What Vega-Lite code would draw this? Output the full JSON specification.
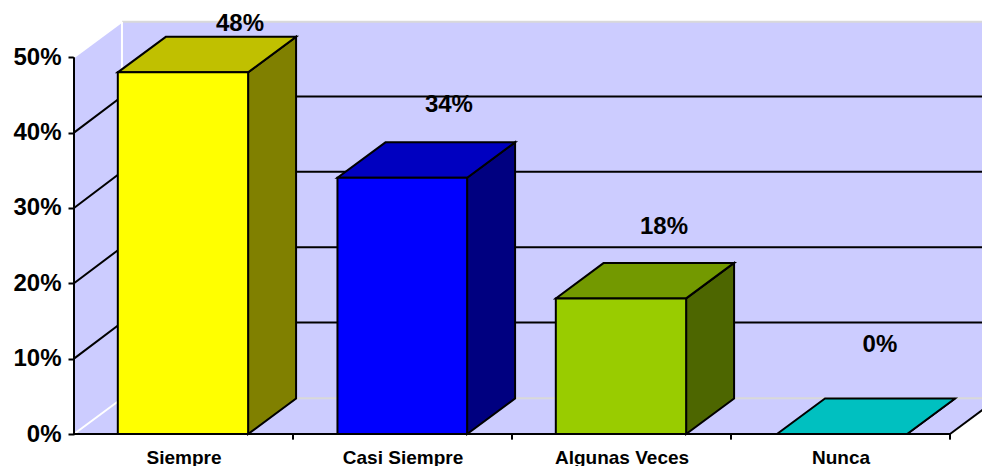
{
  "$schema": "https://vega.github.io/schema/vega-lite/v6.json",
  "width": 908,
  "height": 434,
  "autosize": {"type": "none"},
  "padding": {"left": 74, "top": 0, "right": 0, "bottom": 32},
  "background": "white",
  "view": {"stroke": null},
  "config": {"font": "Liberation Sans"},
  "datasets": {
    "barras": [
      {"categoria": "Siempre", "etiqueta": "48%", "y": 48, "x": 0.2, "x2": 0.795, "xEtiqueta": 0.758, "yEtiqueta": 54.4},
      {"categoria": "Casi Siempre", "etiqueta": "34%", "y": 34, "x": 1.203, "x2": 1.795, "xEtiqueta": 1.712, "yEtiqueta": 43.66},
      {"categoria": "Algunas Veces", "etiqueta": "18%", "y": 18, "x": 2.2, "x2": 2.795, "xEtiqueta": 2.694, "yEtiqueta": 27.47},
      {"categoria": "Nunca", "etiqueta": "0%", "y": 0, "x": 3.21, "x2": 3.804, "xEtiqueta": 3.68, "yEtiqueta": 11.8}
    ],
    "lateral": [
      {"categoria": "Siempre", "x": 0.795, "y": 48, "y2": 0},
      {"categoria": "Siempre", "x": 1.014, "y": 52.71, "y2": 4.71},
      {"categoria": "Casi Siempre", "x": 1.795, "y": 34, "y2": 0},
      {"categoria": "Casi Siempre", "x": 2.014, "y": 38.71, "y2": 4.71},
      {"categoria": "Algunas Veces", "x": 2.795, "y": 18, "y2": 0},
      {"categoria": "Algunas Veces", "x": 3.014, "y": 22.71, "y2": 4.71},
      {"categoria": "Nunca", "x": 3.804, "y": 0, "y2": 0},
      {"categoria": "Nunca", "x": 4.023, "y": 4.71, "y2": 4.71}
    ],
    "superior": [
      {"categoria": "Siempre", "y": 48, "x": 0.2, "x2": 0.795},
      {"categoria": "Siempre", "y": 52.71, "x": 0.419, "x2": 1.014},
      {"categoria": "Casi Siempre", "y": 34, "x": 1.203, "x2": 1.795},
      {"categoria": "Casi Siempre", "y": 38.71, "x": 1.422, "x2": 2.014},
      {"categoria": "Algunas Veces", "y": 18, "x": 2.2, "x2": 2.795},
      {"categoria": "Algunas Veces", "y": 22.71, "x": 2.419, "x2": 3.014},
      {"categoria": "Nunca", "y": 0, "x": 3.21, "x2": 3.804},
      {"categoria": "Nunca", "y": 4.71, "x": 3.429, "x2": 4.023}
    ],
    "paredes": [
      {"pared": "fondo", "x": 0.219, "y": 54.71, "y2": 4.71},
      {"pared": "fondo", "x": 4.219, "y": 54.71, "y2": 4.71},
      {"pared": "izquierda", "x": 0, "y": 50, "y2": 0},
      {"pared": "izquierda", "x": 0.219, "y": 54.71, "y2": 4.71}
    ],
    "suelo": [
      {"y": 0, "x": 0, "x2": 4},
      {"y": 4.71, "x": 0.219, "x2": 4.219}
    ],
    "rejilla": [
      {"nivel": 10, "x": 0, "y": 10},
      {"nivel": 10, "x": 0.219, "y": 14.8},
      {"nivel": 10, "x": 4.219, "y": 14.8},
      {"nivel": 20, "x": 0, "y": 20},
      {"nivel": 20, "x": 0.219, "y": 24.8},
      {"nivel": 20, "x": 4.219, "y": 24.8},
      {"nivel": 30, "x": 0, "y": 30},
      {"nivel": 30, "x": 0.219, "y": 34.8},
      {"nivel": 30, "x": 4.219, "y": 34.8},
      {"nivel": 40, "x": 0, "y": 40},
      {"nivel": 40, "x": 0.219, "y": 44.8},
      {"nivel": 40, "x": 4.219, "y": 44.8}
    ],
    "bordesClaros": [
      {"borde": "techo", "x": 0.219, "y": 54.71},
      {"borde": "techo", "x": 4.219, "y": 54.71},
      {"borde": "base", "x": 0.219, "y": 4.75},
      {"borde": "base", "x": 4.219, "y": 4.75}
    ],
    "bordesBlancos": [
      {"borde": "arista", "x": 0.219, "y": 4.71},
      {"borde": "arista", "x": 0.219, "y": 54.71},
      {"borde": "techo", "x": 0, "y": 50},
      {"borde": "techo", "x": 0.219, "y": 54.71},
      {"borde": "base", "x": 0, "y": 0},
      {"borde": "base", "x": 0.219, "y": 4.71}
    ],
    "ejes": [
      {"eje": "vertical", "x": 0, "y": 0},
      {"eje": "vertical", "x": 0, "y": 50},
      {"eje": "horizontal", "x": 0, "y": 0},
      {"eje": "horizontal", "x": 4, "y": 0},
      {"eje": "esquina", "x": 4, "y": 0},
      {"eje": "esquina", "x": 4.219, "y": 4.71},
      {"eje": "marca1", "x": 1, "y": 0},
      {"eje": "marca1", "x": 1, "y": -0.75},
      {"eje": "marca2", "x": 2, "y": 0},
      {"eje": "marca2", "x": 2, "y": -0.75},
      {"eje": "marca3", "x": 3, "y": 0},
      {"eje": "marca3", "x": 3, "y": -0.75},
      {"eje": "marca4", "x": 4, "y": 0},
      {"eje": "marca4", "x": 4, "y": -0.75}
    ]
  },
  "encoding": {
    "x": {
      "field": "x",
      "type": "quantitative",
      "stack": null,
      "scale": {"domain": [0, 4.146], "nice": false, "zero": false},
      "axis": {
        "orient": "bottom",
        "values": [0.5, 1.5, 2.5, 3.5],
        "domain": false,
        "ticks": false,
        "grid": false,
        "title": null,
        "labelExpr": "['Siempre', 'Casi Siempre', 'Algunas Veces', 'Nunca'][floor(datum.value)]",
        "labelFont": "Liberation Sans",
        "labelFontWeight": "bold",
        "labelFontSize": 19,
        "labelColor": "#000000",
        "labelPadding": 14,
        "labelBaseline": "top"
      }
    },
    "y": {
      "field": "y",
      "type": "quantitative",
      "stack": null,
      "scale": {"domain": [0, 57.6], "nice": false, "zero": false},
      "axis": {
        "orient": "left",
        "values": [0, 10, 20, 30, 40, 50],
        "domain": false,
        "ticks": true,
        "tickColor": "#000000",
        "tickWidth": 2,
        "tickSize": 6,
        "grid": false,
        "title": null,
        "labelExpr": "datum.value + '%'",
        "labelFont": "Liberation Sans",
        "labelFontWeight": "bold",
        "labelFontSize": 24,
        "labelColor": "#000000",
        "labelPadding": 7
      }
    }
  },
  "layer": [
    {
      "data": {"name": "paredes"},
      "mark": {"type": "area", "color": "#ccccff", "orient": "vertical"},
      "encoding": {
        "detail": {"field": "pared"},
        "y2": {"field": "y2"}
      }
    },
    {
      "data": {"name": "suelo"},
      "mark": {"type": "area", "color": "#ccccff", "orient": "horizontal"},
      "encoding": {"x2": {"field": "x2"}}
    },
    {
      "data": {"name": "bordesClaros"},
      "mark": {"type": "line", "color": "#d9d9d9", "strokeWidth": 2},
      "encoding": {"detail": {"field": "borde"}}
    },
    {
      "data": {"name": "bordesBlancos"},
      "mark": {"type": "line", "color": "#ffffff", "strokeWidth": 2},
      "encoding": {"detail": {"field": "borde"}}
    },
    {
      "data": {"name": "rejilla"},
      "mark": {"type": "line", "color": "#000000", "strokeWidth": 2},
      "encoding": {"detail": {"field": "nivel"}}
    },
    {
      "data": {"name": "ejes"},
      "mark": {"type": "line", "color": "#000000", "strokeWidth": 2},
      "encoding": {"detail": {"field": "eje"}}
    },
    {
      "data": {"name": "lateral"},
      "mark": {"type": "area", "orient": "vertical", "stroke": "#000000", "strokeWidth": 2},
      "encoding": {
        "y2": {"field": "y2"},
        "color": {
          "field": "categoria",
          "type": "nominal",
          "legend": null,
          "scale": {
            "domain": ["Siempre", "Casi Siempre", "Algunas Veces", "Nunca"],
            "range": ["#808000", "#000080", "#4d6600", "#008080"]
          }
        }
      }
    },
    {
      "data": {"name": "superior"},
      "mark": {"type": "area", "orient": "horizontal", "stroke": "#000000", "strokeWidth": 2},
      "encoding": {
        "x2": {"field": "x2"},
        "color": {
          "field": "categoria",
          "type": "nominal",
          "legend": null,
          "scale": {
            "domain": ["Siempre", "Casi Siempre", "Algunas Veces", "Nunca"],
            "range": ["#c0c000", "#0000c0", "#739900", "#00c0c0"]
          }
        }
      }
    },
    {
      "data": {"name": "barras"},
      "mark": {"type": "rect", "stroke": "#000000", "strokeWidth": 2},
      "encoding": {
        "x2": {"field": "x2"},
        "y2": {"datum": 0},
        "color": {
          "field": "categoria",
          "type": "nominal",
          "legend": null,
          "scale": {
            "domain": ["Siempre", "Casi Siempre", "Algunas Veces", "Nunca"],
            "range": ["#ffff00", "#0000ff", "#99cc00", "#00ffff"]
          }
        }
      }
    },
    {
      "data": {"name": "barras"},
      "mark": {"type": "text", "fontWeight": "bold", "fontSize": 24, "color": "#000000", "baseline": "middle", "align": "center"},
      "encoding": {
        "x": {"field": "xEtiqueta", "type": "quantitative", "title": null},
        "y": {"field": "yEtiqueta", "type": "quantitative", "title": null},
        "text": {"field": "etiqueta", "type": "nominal"}
      }
    }
  ],
  "resolve": {"scale": {"color": "independent"}}
}
